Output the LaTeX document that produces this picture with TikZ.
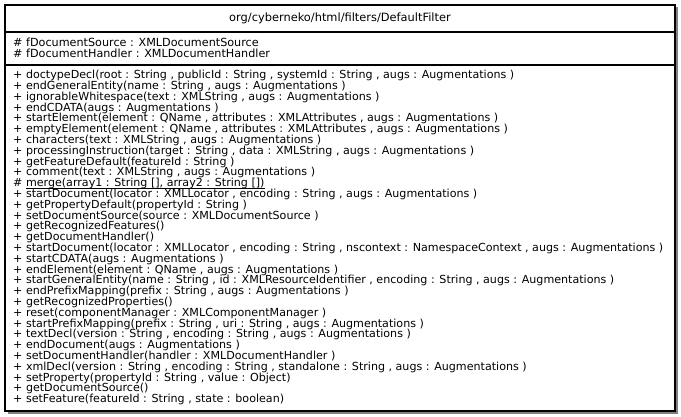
\documentclass[tikz,border=0pt]{standalone}
\usepackage{fontspec}
\setmainfont{DejaVu Sans}
\newcommand{\staticul}[1]{\setbox0=\hbox{#1}\rlap{\rule[-1.7pt]{\wd0}{0.7pt}}\box0}
\tikzset{
  umlbox/.style={draw=black, line width=1.3pt, fill=white},
  umlshadow/.style={fill=black!50, draw=none},
  divider/.style={draw=black, line width=1.3pt},
  titletext/.style={inner sep=0pt, font=\fontsize{11.4}{12}\selectfont},
  attr/.style={anchor=west, inner sep=0pt, text height=7.8pt, text depth=2.3pt, font=\fontsize{11.2}{12}\selectfont},
  memb/.style={anchor=west, inner sep=0pt, text height=7.8pt, text depth=2.3pt, font=\fontsize{11.1}{12}\selectfont},
}
\begin{document}
\begin{tikzpicture}[x=1pt, y=-1pt]
\useasboundingbox (0,0) rectangle (681,417);
\fill[white] (0,0) rectangle (681,417);
% shadow and box
\path[umlshadow] (7.5,7.5) rectangle (677.5,413.5);
\path[umlbox] (5,5) rectangle (675,411);
\coordinate (d1l) at (5,32);
\coordinate (d1r) at (675,32);
\coordinate (d2l) at (5,65);
\coordinate (d2r) at (675,65);
\draw[divider] (d1l) -- (d1r);
\draw[divider] (d2l) -- (d2r);
\node[titletext] (title) at (340,18) {org/cyberneko/html/filters/DefaultFilter};
% attributes
\node[attr] (a1) at (13,43.5) {\# fDocumentSource : XMLDocumentSource};
\node[attr] (a2) at (13,55) {\# fDocumentHandler : XMLDocumentHandler};
% methods
\def\mx{13}
\node[memb] (m1) at (\mx,76.0) {+ doctypeDecl(root : String , publicId : String , systemId : String , augs : Augmentations )};
\node[memb] (m2) at (\mx,86.8) {+ endGeneralEntity(name : String , augs : Augmentations )};
\node[memb] (m3) at (\mx,97.6) {+ ignorableWhitespace(text : XMLString , augs : Augmentations )};
\node[memb] (m4) at (\mx,108.4) {+ endCDATA(augs : Augmentations )};
\node[memb] (m5) at (\mx,119.2) {+ startElement(element : QName , attributes : XMLAttributes , augs : Augmentations )};
\node[memb] (m6) at (\mx,130.0) {+ emptyElement(element : QName , attributes : XMLAttributes , augs : Augmentations )};
\node[memb] (m7) at (\mx,140.8) {+ characters(text : XMLString , augs : Augmentations )};
\node[memb] (m8) at (\mx,151.6) {+ processingInstruction(target : String , data : XMLString , augs : Augmentations )};
\node[memb] (m9) at (\mx,162.4) {+ getFeatureDefault(featureId : String )};
\node[memb] (m10) at (\mx,173.2) {+ comment(text : XMLString , augs : Augmentations )};
\node[memb] (m11) at (\mx,184.0) {\# \staticul{merge(array1 : String [], array2 : String [])}};
\node[memb] (m12) at (\mx,194.8) {+ startDocument(locator : XMLLocator , encoding : String , augs : Augmentations )};
\node[memb] (m13) at (\mx,205.6) {+ getPropertyDefault(propertyId : String )};
\node[memb] (m14) at (\mx,216.4) {+ setDocumentSource(source : XMLDocumentSource )};
\node[memb] (m15) at (\mx,227.2) {+ getRecognizedFeatures()};
\node[memb] (m16) at (\mx,238.0) {+ getDocumentHandler()};
\node[memb] (m17) at (\mx,248.8) {+ startDocument(locator : XMLLocator , encoding : String , nscontext : NamespaceContext , augs : Augmentations )};
\node[memb] (m18) at (\mx,259.6) {+ startCDATA(augs : Augmentations )};
\node[memb] (m19) at (\mx,270.4) {+ endElement(element : QName , augs : Augmentations )};
\node[memb] (m20) at (\mx,281.2) {+ startGeneralEntity(name : String , id : XMLResourceIdentifier , encoding : String , augs : Augmentations )};
\node[memb] (m21) at (\mx,292.0) {+ endPrefixMapping(prefix : String , augs : Augmentations )};
\node[memb] (m22) at (\mx,302.8) {+ getRecognizedProperties()};
\node[memb] (m23) at (\mx,313.6) {+ reset(componentManager : XMLComponentManager )};
\node[memb] (m24) at (\mx,324.4) {+ startPrefixMapping(prefix : String , uri : String , augs : Augmentations )};
\node[memb] (m25) at (\mx,335.2) {+ textDecl(version : String , encoding : String , augs : Augmentations )};
\node[memb] (m26) at (\mx,346.0) {+ endDocument(augs : Augmentations )};
\node[memb] (m27) at (\mx,356.8) {+ setDocumentHandler(handler : XMLDocumentHandler )};
\node[memb] (m28) at (\mx,367.6) {+ xmlDecl(version : String , encoding : String , standalone : String , augs : Augmentations )};
\node[memb] (m29) at (\mx,378.4) {+ setProperty(propertyId : String , value : Object)};
\node[memb] (m30) at (\mx,389.2) {+ getDocumentSource()};
\node[memb] (m31) at (\mx,400.0) {+ setFeature(featureId : String , state : boolean)};
\end{tikzpicture}
\end{document}
